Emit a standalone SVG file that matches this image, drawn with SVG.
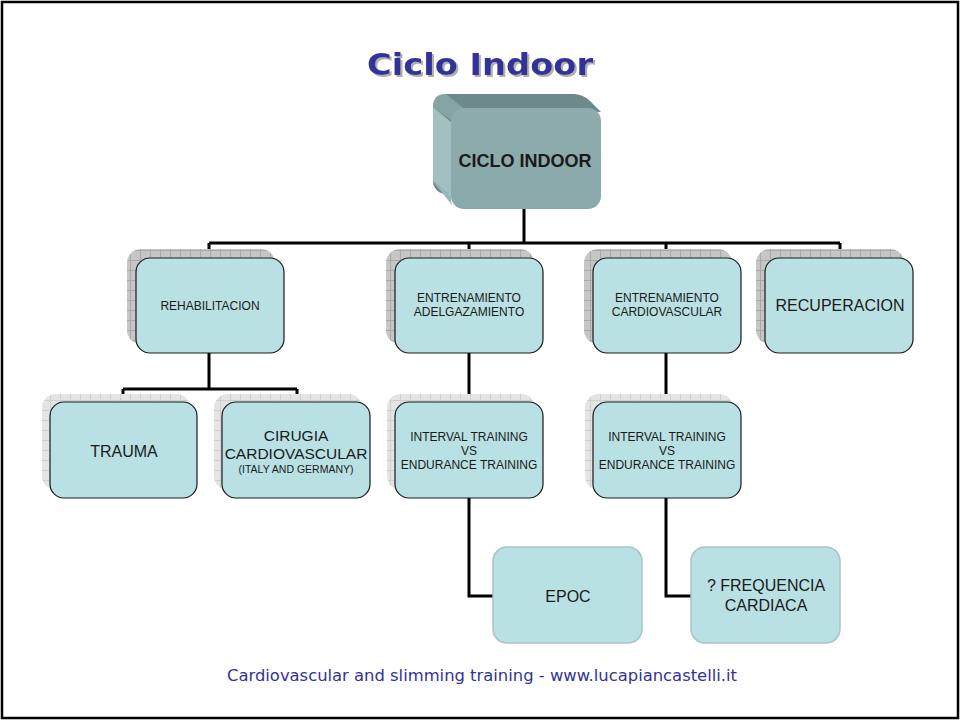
<svg xmlns="http://www.w3.org/2000/svg" width="960" height="720" viewBox="0 0 960 720">
<style>
.box{fill:#b9e0e3;stroke:#1a1a1a;stroke-width:1.2}
.soft{fill:#b9e0e3;stroke:#a8c4c6;stroke-width:1.5}
.sh{fill:url(#hatch)}
.sh2{fill:url(#hatch2)}
.t{font-family:"Liberation Sans",Arial,sans-serif;fill:#1a1a1a;text-anchor:middle}
.c{fill:none;stroke:#000;stroke-width:3}
</style>
<defs>
<pattern id="hatch" width="10" height="10" patternUnits="userSpaceOnUse">
<rect width="10" height="10" fill="#c6c6c6"/>
<path d="M0,0.5H10M0.5,0V10" stroke="#a9a9a9" stroke-width="1"/>
</pattern>
<pattern id="hatch2" width="10" height="10" patternUnits="userSpaceOnUse">
<rect width="10" height="10" fill="#e4e4e4"/>
<path d="M0,0.5H10M0.5,0V10" stroke="#cfcfcf" stroke-width="1"/>
</pattern>
<linearGradient id="front" x1="0" y1="0" x2="0" y2="1">
<stop offset="0" stop-color="#8eacac"/>
<stop offset="1" stop-color="#8aa9aa"/>
</linearGradient>
<filter id="tshadow" x="-10%" y="-20%" width="120%" height="150%">
<feDropShadow dx="2" dy="2" stdDeviation="0.3" flood-color="#b0b0b0" flood-opacity="1"/>
</filter>
</defs>
<rect x="2" y="2" width="956" height="716" fill="#fff" stroke="#000" stroke-width="2.5"/>
<text x="480" y="75" font-family="'DejaVu Sans',Verdana,sans-serif" font-weight="bold" font-size="31" fill="#333399" text-anchor="middle" textLength="226" lengthAdjust="spacingAndGlyphs" filter="url(#tshadow)">Ciclo Indoor</text>

<g id="connectors">
<path class="c" d="M524,209V243M209,243H840M209,243V258M469,243V258M666,243V258M840,243V258"/>
<path class="c" d="M209,353V389M123,389H297M123,389V402M297,389V402"/>
<path class="c" d="M469,353V402M666,353V402"/>
<path class="c" d="M469,498V596H493M666,498V596H691"/>
</g>

<g id="n-ciclo">
<rect x="433" y="94" width="152" height="100" rx="13" fill="#6f8c8c"/>
<path d="M433,107 L451,122 L451,196 L433,181 Z" fill="#a2c0c2"/>
<path d="M446,94 L573,94 Q583,94 590,101 L601,112 L463,108 Z" fill="#6d8989"/>
<path d="M433,107 Q433,94 446,94 L463,108 L451,120 Z" fill="#86a4a6"/>
<path d="M433,181 L451,196 L451,198 Q451,206 455,209 Z" fill="#9ab8ba"/>
<rect x="451" y="108" width="150" height="101" rx="13" fill="url(#front)"/>
<text class="t" x="525" y="167" font-size="18" font-weight="bold" fill="#000">CICLO INDOOR</text>
</g>

<g id="n-rehab">
<rect class="sh" x="127" y="249" width="148" height="95" rx="14"/>
<rect class="box" x="136" y="258" width="148" height="95" rx="14"/>
<text class="t" x="210" y="310" font-size="12">REHABILITACION</text>
</g>
<g id="n-adelg">
<rect class="sh" x="386" y="249" width="148" height="95" rx="14"/>
<rect class="box" x="395" y="258" width="148" height="95" rx="14"/>
<text class="t" x="469" y="302" font-size="12">ENTRENAMIENTO</text>
<text class="t" x="469" y="316" font-size="12">ADELGAZAMIENTO</text>
</g>
<g id="n-cardio">
<rect class="sh" x="584" y="249" width="148" height="95" rx="14"/>
<rect class="box" x="593" y="258" width="148" height="95" rx="14"/>
<text class="t" x="667" y="302" font-size="12">ENTRENAMIENTO</text>
<text class="t" x="667" y="316" font-size="12">CARDIOVASCULAR</text>
</g>
<g id="n-recup">
<rect class="sh" x="756" y="249" width="148" height="95" rx="14"/>
<rect class="box" x="765" y="258" width="148" height="95" rx="14"/>
<text class="t" x="840" y="311" font-size="16">RECUPERACION</text>
</g>

<g id="n-trauma">
<rect class="sh2" x="42" y="394" width="148" height="96" rx="14"/>
<rect class="box" x="50" y="402" width="147" height="96" rx="14"/>
<text class="t" x="124" y="457" font-size="16">TRAUMA</text>
</g>
<g id="n-cirugia">
<rect class="sh2" x="214" y="394" width="148" height="96" rx="14"/>
<rect class="box" x="222" y="402" width="148" height="96" rx="14"/>
<text class="t" x="296" y="441" font-size="15.5">CIRUGIA</text>
<text class="t" x="296" y="459" font-size="15.5">CARDIOVASCULAR</text>
<text class="t" x="296" y="473" font-size="10.5">(ITALY AND GERMANY)</text>
</g>
<g id="n-interval1">
<rect class="sh2" x="387" y="394" width="148" height="96" rx="14"/>
<rect class="box" x="395" y="402" width="148" height="96" rx="14"/>
<text class="t" x="469" y="441" font-size="12">INTERVAL TRAINING</text>
<text class="t" x="469" y="455" font-size="12">VS</text>
<text class="t" x="469" y="469" font-size="12">ENDURANCE TRAINING</text>
</g>
<g id="n-interval2">
<rect class="sh2" x="585" y="394" width="148" height="96" rx="14"/>
<rect class="box" x="593" y="402" width="148" height="96" rx="14"/>
<text class="t" x="667" y="441" font-size="12">INTERVAL TRAINING</text>
<text class="t" x="667" y="455" font-size="12">VS</text>
<text class="t" x="667" y="469" font-size="12">ENDURANCE TRAINING</text>
</g>

<g id="n-epoc">
<rect class="soft" x="493" y="547" width="149" height="96" rx="14"/>
<text class="t" x="568" y="602" font-size="16">EPOC</text>
</g>
<g id="n-freq">
<rect class="soft" x="691" y="547" width="149" height="96" rx="14"/>
<text class="t" x="766" y="591" font-size="16">? FREQUENCIA</text>
<text class="t" x="766" y="611" font-size="16">CARDIACA</text>
</g>

<text x="482" y="681" font-family="'DejaVu Sans',Verdana,sans-serif" font-size="15" fill="#333399" text-anchor="middle" textLength="510" lengthAdjust="spacingAndGlyphs">Cardiovascular and slimming training - www.lucapiancastelli.it</text>
</svg>
